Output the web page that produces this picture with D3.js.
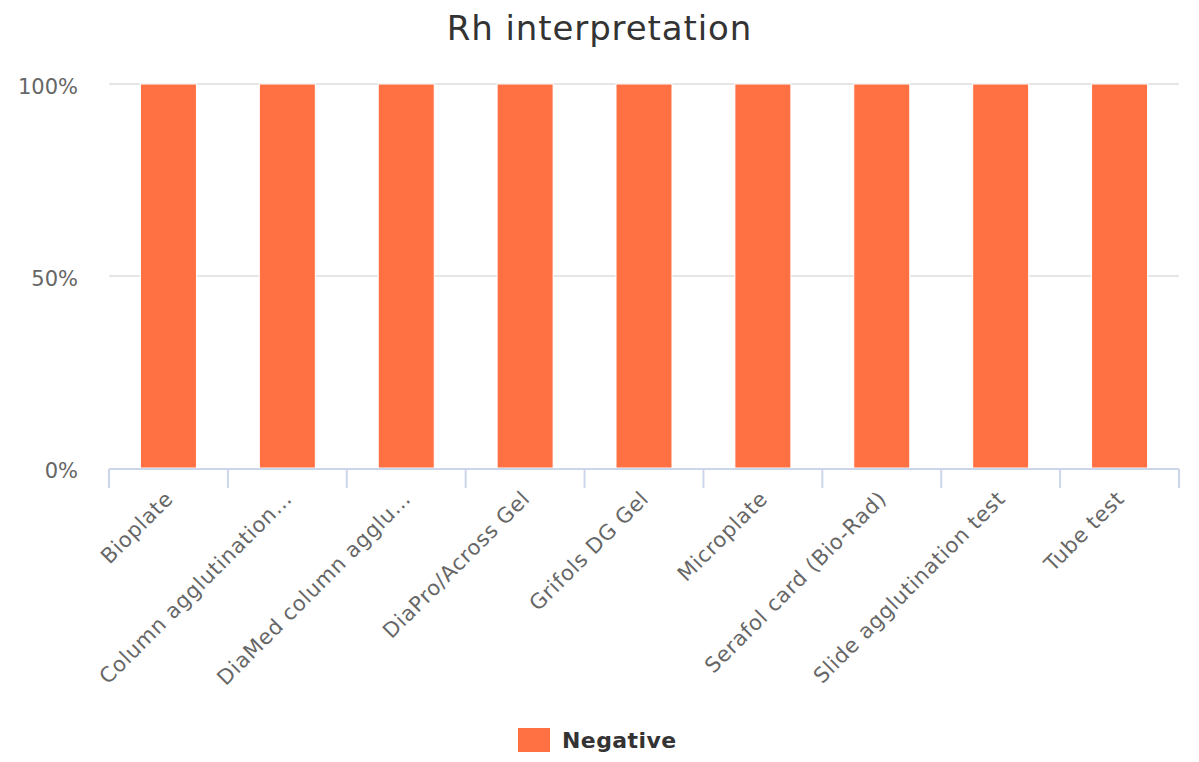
<!DOCTYPE html>
<html>
<head>
<meta charset="utf-8">
<script src="https://cdn.jsdelivr.net/npm/d3@7"></script>
<style>
  html, body { margin: 0; padding: 0; background: #fff; }
  svg { display: block; font-family: "DejaVu Sans", Verdana, sans-serif; }
</style>
</head>
<body>
<svg id="chart" width="1199" height="762"></svg>
<script>
const title = "Rh interpretation";
const categories = [
  "Bioplate",
  "Column agglutination…",
  "DiaMed column agglu…",
  "DiaPro/Across Gel",
  "Grifols DG Gel",
  "Microplate",
  "Serafol card (Bio-Rad)",
  "Slide agglutination test",
  "Tube test"
];
const seriesName = "Negative";
const negativeValues = [100, 100, 100, 100, 100, 100, 100, 100, 100];
const yTicks = [0, 50, 100];
const seriesColor = "#FF7043";

const W = 1199, H = 762;
const margin = { left: 109, right: 20, top: 84, bottom: 294 };
const svg = d3.select("#chart");

const x = d3.scaleBand()
  .domain(categories)
  .range([margin.left, W - margin.right])
  .paddingInner(0)
  .paddingOuter(0);
const y = d3.scaleLinear().domain([0, 100]).range([H - margin.bottom, margin.top]);

// Title
svg.append("text")
  .attr("x", W / 2)
  .attr("y", 40)
  .attr("text-anchor", "middle")
  .attr("fill", "#333333")
  .attr("font-size", 34)
  .attr("letter-spacing", 0.9)
  .text(title);

// Gridlines
svg.append("g")
  .selectAll("line")
  .data(yTicks.filter(d => d !== 0))
  .join("line")
  .attr("x1", margin.left)
  .attr("x2", W - margin.right)
  .attr("y1", d => y(d))
  .attr("y2", d => y(d))
  .attr("stroke", "#e6e6e6")
  .attr("stroke-width", 2);

// Y labels
svg.append("g")
  .selectAll("text")
  .data(yTicks)
  .join("text")
  .attr("x", 78)
  .attr("y", d => y(d) + 10)
  .attr("text-anchor", "end")
  .attr("fill", "#666666")
  .attr("font-size", 21)
  .text(d => d + "%");

// Bars
const step = x.step();
const barW = step * 0.471;
svg.append("g")
  .selectAll("rect")
  .data(categories.map((c, i) => ({ c, v: negativeValues[i] })))
  .join("rect")
  .attr("x", d => x(d.c) + (step - barW) / 2)
  .attr("width", barW)
  .attr("y", d => y(d.v))
  .attr("height", d => y(0) - y(d.v))
  .attr("fill", seriesColor)
  .attr("stroke", "#ffffff")
  .attr("stroke-width", 1);

// X axis line and ticks
const axisY = y(0) + 1;
svg.append("line")
  .attr("x1", margin.left)
  .attr("x2", W - margin.right)
  .attr("y1", axisY)
  .attr("y2", axisY)
  .attr("stroke", "#ccd6eb")
  .attr("stroke-width", 2);

const tickPos = categories.map(c => x(c)).concat([x(categories[categories.length - 1]) + step]);
svg.append("g")
  .selectAll("line")
  .data(tickPos)
  .join("line")
  .attr("x1", d => d)
  .attr("x2", d => d)
  .attr("y1", axisY)
  .attr("y2", axisY + 19)
  .attr("stroke", "#ccd6eb")
  .attr("stroke-width", 2);

// X labels
svg.append("g")
  .selectAll("text")
  .data(categories)
  .join("text")
  .attr("transform", d => `translate(${x(d) + step / 2 + 6},${500}) rotate(-45)`)
  .attr("text-anchor", "end")
  .attr("fill", "#666666")
  .attr("font-size", 21)
  .attr("letter-spacing", 0.7)
  .text(d => d);

// Legend
const legend = svg.append("g");
legend.append("rect")
  .attr("x", 518)
  .attr("y", 728)
  .attr("width", 32)
  .attr("height", 24)
  .attr("fill", seriesColor);
legend.append("text")
  .attr("x", 562)
  .attr("y", 748)
  .attr("fill", "#333333")
  .attr("font-size", 22)
  .attr("font-weight", "bold")
  .attr("letter-spacing", 0.4)
  .text(seriesName);
</script>
</body>
</html>
